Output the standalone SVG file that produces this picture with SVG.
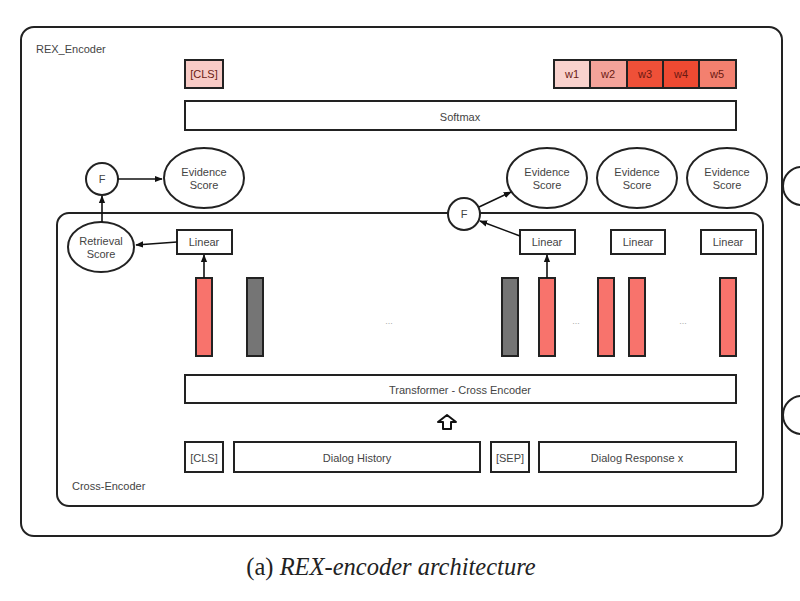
<svg xmlns="http://www.w3.org/2000/svg" width="800" height="601" viewBox="0 0 800 601">
<defs>
<marker id="ah" viewBox="0 0 10 10" refX="9" refY="5" markerWidth="5" markerHeight="5" orient="auto-start-reverse">
<path d="M0,1 L10,5 L0,9 z" fill="#111"/>
</marker>
<style>
.b{fill:#fff;stroke:#222;stroke-width:2}
.t{font-family:"Liberation Sans",Arial,sans-serif;font-size:11px;fill:#444;text-anchor:middle;dominant-baseline:central}
.l{font-family:"Liberation Sans",Arial,sans-serif;font-size:11px;fill:#444}
.w{fill:#6b1a12}
.c{stroke:#111;stroke-width:1.6;fill:none;marker-end:url(#ah)}
.red{fill:#f8736c;stroke:#222;stroke-width:2}
.gray{fill:#757575;stroke:#222;stroke-width:2}
.dots{font-family:"Liberation Sans",Arial,sans-serif;font-size:9px;fill:#aaa;text-anchor:middle}
</style>
</defs>
<rect width="800" height="601" fill="#fff"/>
<g id="rex-encoder">
<rect x="21" y="27" width="761" height="509" rx="13" class="b"/>
<text x="36" y="53" class="l">REX_Encoder</text>
</g>
<g id="right-partial-circles">
<circle cx="802" cy="186" r="19" class="b"/>
<circle cx="802" cy="415" r="19" class="b"/>
</g>
<g id="cross-encoder">
<rect x="57" y="213" width="706" height="293" rx="12" class="b"/>
<text x="72" y="490" class="l">Cross-Encoder</text>
</g>
<g id="cls-top"><rect x="185" y="60" width="38" height="28" fill="#f8cbc6" stroke="#222" stroke-width="2"/><text x="204" y="74" class="t w">[CLS]</text></g>
<g id="weights">
<rect x="554" y="60" width="36" height="28" fill="#f9d2cd" stroke="#222" stroke-width="2"/><text x="572" y="74" class="t w">w1</text>
<rect x="590" y="60" width="37" height="28" fill="#f4a39a" stroke="#222" stroke-width="2"/><text x="608" y="74" class="t w">w2</text>
<rect x="627" y="60" width="36" height="28" fill="#ef5038" stroke="#222" stroke-width="2"/><text x="645" y="74" class="t w">w3</text>
<rect x="663" y="60" width="36" height="28" fill="#ee4a32" stroke="#222" stroke-width="2"/><text x="681" y="74" class="t w">w4</text>
<rect x="699" y="60" width="37" height="28" fill="#f3806f" stroke="#222" stroke-width="2"/><text x="717" y="74" class="t w">w5</text>
</g>
<g id="softmax"><rect x="185" y="101" width="551" height="29" class="b"/><text x="460" y="117" class="t">Softmax</text></g>
<g id="f-left"><circle cx="102" cy="179" r="16" class="b"/><text x="102" y="179" class="t">F</text></g>
<g id="evidence-1"><ellipse cx="204" cy="178" rx="40" ry="30" class="b"/><text x="204" y="172" class="t">Evidence</text><text x="204" y="185" class="t">Score</text></g>
<g id="evidence-2"><ellipse cx="547" cy="178" rx="40" ry="30" class="b"/><text x="547" y="172" class="t">Evidence</text><text x="547" y="185" class="t">Score</text></g>
<g id="evidence-3"><ellipse cx="637" cy="178" rx="40" ry="30" class="b"/><text x="637" y="172" class="t">Evidence</text><text x="637" y="185" class="t">Score</text></g>
<g id="evidence-4"><ellipse cx="727" cy="178" rx="40" ry="30" class="b"/><text x="727" y="172" class="t">Evidence</text><text x="727" y="185" class="t">Score</text></g>
<g id="f-right"><circle cx="464" cy="214" r="16" class="b"/><text x="464" y="214" class="t">F</text></g>
<g id="retrieval"><ellipse cx="101" cy="247" rx="33" ry="25" class="b"/><text x="101" y="241" class="t">Retrieval</text><text x="101" y="254" class="t">Score</text></g>
<g id="linear-1"><rect x="177" y="230" width="55" height="24" class="b"/><text x="204" y="242" class="t">Linear</text></g>
<g id="linear-2"><rect x="520" y="230" width="55" height="24" class="b"/><text x="547" y="242" class="t">Linear</text></g>
<g id="linear-3"><rect x="611" y="230" width="54" height="24" class="b"/><text x="638" y="242" class="t">Linear</text></g>
<g id="linear-4"><rect x="701" y="230" width="55" height="24" class="b"/><text x="728" y="242" class="t">Linear</text></g>
<g id="bars">
<rect x="196" y="278" width="16" height="78" class="red"/>
<rect x="247" y="278" width="16" height="78" class="gray"/>
<text x="389" y="324" class="dots">...</text>
<rect x="502" y="278" width="16" height="78" class="gray"/>
<rect x="539" y="278" width="16" height="78" class="red"/>
<text x="576" y="324" class="dots">...</text>
<rect x="598" y="278" width="16" height="78" class="red"/>
<rect x="629" y="278" width="16" height="78" class="red"/>
<text x="683" y="324" class="dots">...</text>
<rect x="720" y="278" width="16" height="78" class="red"/>
</g>
<g id="transformer"><rect x="185" y="375" width="551" height="28" class="b"/><text x="460" y="390" class="t">Transformer - Cross Encoder</text></g>
<g id="input-arrow"><path d="M447,415 L456,422 L451,422 L451,429 L443,429 L443,422 L438,422 Z" fill="#fff" stroke="#111" stroke-width="2" stroke-linejoin="round"/></g>
<g id="cls-bottom"><rect x="185" y="442" width="38" height="30" class="b"/><text x="204" y="458" class="t">[CLS]</text></g>
<g id="dialog-history"><rect x="234" y="442" width="246" height="30" class="b"/><text x="357" y="458" class="t">Dialog History</text></g>
<g id="sep"><rect x="491" y="442" width="38" height="30" class="b"/><text x="510" y="458" class="t">[SEP]</text></g>
<g id="dialog-response"><rect x="539" y="442" width="197" height="30" class="b"/><text x="637" y="458" class="t">Dialog Response x</text></g>
<g id="connectors">
<line x1="118" y1="179" x2="162" y2="179" class="c"/>
<line x1="102" y1="222" x2="102" y2="196" class="c"/>
<line x1="177" y1="242" x2="136" y2="245" class="c"/>
<line x1="204" y1="278" x2="204" y2="255" class="c"/>
<line x1="547" y1="278" x2="547" y2="255" class="c"/>
<line x1="520" y1="236" x2="480" y2="221" class="c"/>
<line x1="479" y1="207" x2="511" y2="192" class="c"/>
</g>
<g id="caption">
<text x="391" y="575" style="font-family:'Liberation Serif','Times New Roman',serif;font-size:24.5px;fill:#222" text-anchor="middle">(a) <tspan font-style="italic">REX-encoder architecture</tspan></text>
</g>
</svg>
